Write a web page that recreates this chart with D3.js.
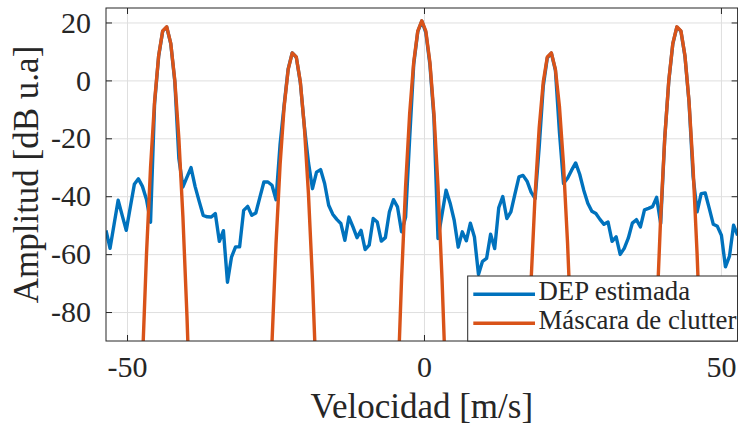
<!DOCTYPE html>
<html>
<head>
<meta charset="utf-8">
<script src="https://cdn.jsdelivr.net/npm/d3@7"></script>
<style>
  html, body { margin: 0; padding: 0; background: #fff; }
  svg { display: block; }
  text { font-family: "Liberation Serif", "DejaVu Serif", serif; fill: #262626; }
</style>
</head>
<body>
<svg id="chart" width="738" height="430"></svg>
<script>
// Doppler velocity grid (m/s)
const velStart = -53.54;
const velStep = 0.6817;
const nBins = 157;

// Estimated power spectral density, one value per velocity bin (dB u.a)
const depDb = [
  -51.8, -58.0, -49.7, -41.4, -46.6, -51.8, -43.8, -35.9, -34.0, -36.6,
  -41.1, -49.0, -8.0, 8.3, 17.0, 18.4, 12.6, -0.5, -27.0, -36.8,
  -33.4, -30.1, -36.6, -41.7, -46.6, -47.1, -47.2, -46.0, -55.6, -51.9,
  -69.7, -61.0, -57.5, -57.5, -44.9, -43.5, -46.6, -45.8, -40.4, -35.1,
  -35.1, -36.2, -41.2, -22.0, -8.5, 4.0, 9.5, 8.0, -0.8, -16.0,
  -28.3, -37.4, -31.7, -30.8, -35.6, -43.1, -46.2, -48.0, -49.4, -55.2,
  -47.2, -50.6, -54.3, -51.8, -58.4, -56.9, -47.7, -48.9, -55.5, -54.3,
  -45.4, -41.2, -43.7, -52.3, -47.2, -20.0, 5.5, 16.8, 20.5, 16.5,
  5.5, -13.0, -54.6, -46.2, -37.9, -42.4, -48.3, -57.6, -52.3, -55.4,
  -49.3, -54.1, -67.0, -62.5, -61.5, -53.1, -58.1, -44.0, -40.1, -47.7,
  -45.4, -39.3, -33.3, -32.8, -34.8, -38.6, -40.8, -23.0, -2.0, 7.8,
  9.4, 3.5, -18.0, -35.6, -33.8, -31.0, -28.5, -32.4, -37.9, -42.4,
  -45.2, -46.0, -48.0, -49.7, -48.9, -55.6, -54.0, -60.1, -58.0, -54.5,
  -49.3, -48.1, -50.6, -44.7, -44.2, -43.6, -40.4, -49.4, -20.0, -0.3,
  12.6, 18.4, 17.0, 8.3, -7.5, -33.0, -45.4, -39.1, -38.9, -44.2,
  -49.7, -50.4, -53.5, -64.4, -60.7, -50.0, -53.5
];

// Clutter mask: first bin of each lobe and the lobe values (dB)
const maskStartBin = [8, 39, 71, 102, 134];
const maskLobesDb = [
  [-141.5, -97.2, -60.1, -30.1, -7.2, 8.5, 17.1, 18.5, 12.8, -0.1, -20.1, -47.2, -81.5, -122.9],
  [-180.4, -131.9, -90.5, -56.2, -29.1, -9.1, 3.8, 9.5, 8.1, -0.5, -16.2, -39.1, -69.1, -106.2, -150.5],
  [-154.3, -107.9, -68.7, -36.5, -11.5, 6.3, 17.0, 20.6, 17.0, 6.3, -11.5, -36.5, -68.7, -107.9, -154.3],
  [-201.9, -150.5, -106.2, -69.1, -39.1, -16.2, -0.5, 8.1, 9.5, 3.8, -9.1, -29.1, -56.2, -90.5, -131.9],
  [-171.4, -122.9, -81.5, -47.2, -20.1, -0.1, 12.8, 18.5, 17.1, 8.5, -7.2, -30.1, -60.1, -97.2, -141.5]
];

const xTicks = [-50, 0, 50];
const yTicks = [-80, -60, -40, -20, 0, 20];
const yDomain = [-90, 25];
const seriesNames = ["DEP estimada", "Máscara de clutter"];
const seriesColors = ["#0072BD", "#D95319"];
const xTitle = "Velocidad [m/s]";
const yTitle = "Amplitud [dB u.a]";

// ---- layout ----
const plot = { left: 106, top: 8, right: 737.6, bottom: 341 };
const pw = plot.right - plot.left;
const ph = plot.bottom - plot.top;
const tickLen = 6;
const axisColor = "#262626";

const svg = d3.select("#chart");

const velAt = i => velStart + i * velStep;
const x = d3.scaleLinear()
  .domain([velAt(0), velAt(nBins - 1)])
  .range([plot.left, plot.right]);
const y = d3.scaleLinear().domain(yDomain).range([plot.bottom, plot.top]);

const dep = depDb.map((v, i) => ({ v: velAt(i), db: v }));
const maskLobes = maskLobesDb.map((lobe, k) =>
  lobe.map((v, i) => ({ v: velAt(maskStartBin[k] + i), db: v })));

svg.append("defs").append("clipPath").attr("id", "plotClip")
  .append("rect")
  .attr("x", plot.left).attr("y", plot.top)
  .attr("width", pw).attr("height", ph);

// grid
const grid = svg.append("g").attr("class", "grid");
grid.append("g")
  .attr("transform", `translate(0,${plot.bottom})`)
  .call(d3.axisBottom(x).tickValues(xTicks).tickSize(-ph).tickFormat(""))
  .call(g => g.select(".domain").remove())
  .call(g => g.selectAll("line").attr("stroke", "#dfdfdf").attr("stroke-width", 1));
grid.append("g")
  .attr("transform", `translate(${plot.left},0)`)
  .call(d3.axisLeft(y).tickValues(yTicks).tickSize(-pw).tickFormat(""))
  .call(g => g.select(".domain").remove())
  .call(g => g.selectAll("line").attr("stroke", "#dfdfdf").attr("stroke-width", 1));

// data lines
const line = d3.line().x(d => x(d.v)).y(d => y(d.db));
const data = svg.append("g").attr("clip-path", "url(#plotClip)");
data.append("path")
  .datum(dep)
  .attr("d", line)
  .attr("fill", "none")
  .attr("stroke", seriesColors[0])
  .attr("stroke-width", 3.4)
  .attr("stroke-linejoin", "round");
data.selectAll("path.mask")
  .data(maskLobes)
  .join("path")
  .attr("class", "mask")
  .attr("d", line)
  .attr("fill", "none")
  .attr("stroke", seriesColors[1])
  .attr("stroke-width", 3.4)
  .attr("stroke-linejoin", "round");

// axes (ticks point inward, box on all four sides)
const styleAxis = g => {
  g.select(".domain").remove();
  g.selectAll(".tick line").attr("stroke", axisColor).attr("stroke-width", 1);
  g.selectAll(".tick text")
    .attr("fill", axisColor)
    .style("font-family", '"Liberation Serif", "DejaVu Serif", serif')
    .style("font-size", "30px");
};

svg.append("g")
  .attr("transform", `translate(0,${plot.bottom})`)
  .call(d3.axisBottom(x).tickValues(xTicks).tickSizeInner(-tickLen).tickSizeOuter(0)
    .tickPadding(15).tickFormat(d => String(d)))
  .call(styleAxis);
svg.append("g")
  .attr("transform", `translate(0,${plot.top})`)
  .call(d3.axisTop(x).tickValues(xTicks).tickSizeInner(-tickLen).tickSizeOuter(0).tickFormat(""))
  .call(styleAxis);
svg.append("g")
  .attr("transform", `translate(${plot.left},0)`)
  .call(d3.axisLeft(y).tickValues(yTicks).tickSizeInner(-tickLen).tickSizeOuter(0)
    .tickPadding(15).tickFormat(d => String(d)))
  .call(styleAxis);
svg.append("g")
  .attr("transform", `translate(${plot.right},0)`)
  .call(d3.axisRight(y).tickValues(yTicks).tickSizeInner(-tickLen).tickSizeOuter(0).tickFormat(""))
  .call(styleAxis);

svg.append("rect")
  .attr("x", plot.left).attr("y", plot.top)
  .attr("width", pw).attr("height", ph)
  .attr("fill", "none")
  .attr("stroke", axisColor)
  .attr("stroke-width", 1);

// axis titles
svg.append("text")
  .attr("x", (plot.left + plot.right) / 2)
  .attr("y", 418)
  .attr("text-anchor", "middle")
  .style("font-size", "35px")
  .text(xTitle);
svg.append("text")
  .attr("transform", `translate(38,${(plot.top + plot.bottom) / 2}) rotate(-90)`)
  .attr("text-anchor", "middle")
  .style("font-size", "35px")
  .text(yTitle);

// legend
const legend = { x: 467.7, y: 276, w: plot.right - 467.7, h: plot.bottom - 276 };
const lg = svg.append("g");
lg.append("rect")
  .attr("x", legend.x).attr("y", legend.y)
  .attr("width", legend.w).attr("height", legend.h)
  .attr("fill", "#fff")
  .attr("stroke", axisColor)
  .attr("stroke-width", 1);
const rowY = [294.3, 323.3];
seriesNames.forEach((name, i) => {
  lg.append("line")
    .attr("x1", 473.3).attr("x2", 535)
    .attr("y1", rowY[i]).attr("y2", rowY[i])
    .attr("stroke", seriesColors[i])
    .attr("stroke-width", 3.4);
  lg.append("text")
    .attr("x", 538.5)
    .attr("y", rowY[i] + 5.5)
    .style("font-size", "26.8px")
    .text(name);
});
</script>
</body>
</html>
